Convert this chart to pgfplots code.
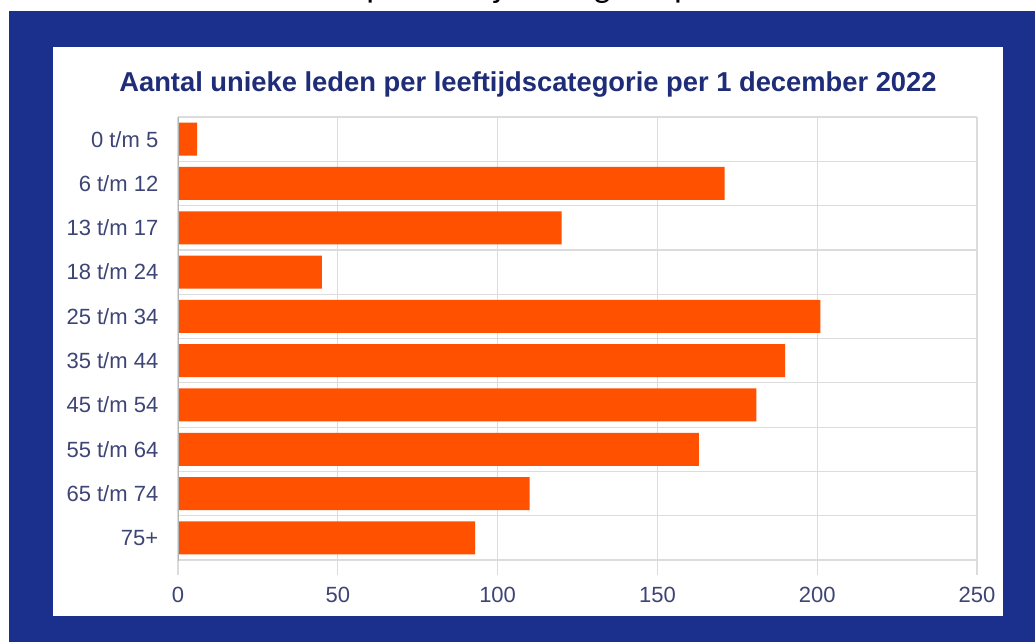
\documentclass[border=0pt]{standalone}
\usepackage{fontspec}
\setmainfont{Liberation Sans}
\newfontfamily\captionfont{Carlito}
\usepackage{pgfplots}
\pgfplotsset{compat=1.18}
\definecolor{frameblue}{HTML}{1B2F8D}
\definecolor{barorange}{HTML}{FF5100}
\definecolor{titleblue}{HTML}{1F2C77}
\definecolor{labelblue}{HTML}{3D4476}
\definecolor{gridgray}{HTML}{DCDCDC}
\definecolor{axisgray}{HTML}{B4B4B4}

\begin{document}
\begin{tikzpicture}
% page = 1035 x 642 px, 1 px = 0.75 pt, origin top left
\useasboundingbox (0,0) rectangle (776.25pt,-481.5pt);
\fill[white] (0,0) rectangle (776.25pt,-481.5pt);
\begin{scope}
  \clip (0,0) rectangle (776.25pt,-8.25pt);
  \node[anchor=base, inner sep=0pt, text=black,
        font=\captionfont\fontsize{26.2}{30}\selectfont] at (396pt,1.5pt)
        {Aantal unieke leden per leeftijdscategorie per 1 december 2022};
\end{scope}
\fill[frameblue] (6.75pt,-8.25pt) rectangle (776.25pt,-481.5pt);
\fill[white] (39.75pt,-35.25pt) rectangle (752.25pt,-462pt);
\node[anchor=base, inner sep=0pt, text=titleblue,
      font=\bfseries\fontsize{20.5}{24}\selectfont] at (396pt,-69pt)
      {Aantal unieke leden per leeftijdscategorie per 1 december 2022};

\begin{axis}[
    at={(133.5pt,-420pt)}, anchor=south west,
    scale only axis, width=599.25pt, height=332.25pt,
    xmin=0, xmax=250, ymin=-0.5, ymax=9.5, y dir=reverse,
    xtick={0,50,...,250},
    ytick={0,...,9},
    yticklabels={0 t/m 5, 6 t/m 12, 13 t/m 17, 18 t/m 24, 25 t/m 34,
                 35 t/m 44, 45 t/m 54, 55 t/m 64, 65 t/m 74, 75+},
    axis line style={draw=none},
    tick align=outside,
    xtick pos=lower, ytick pos=left,
    major tick length=11.25pt,
    xmajorgrids,
    grid style={gridgray, line width=0.9pt},
    x tick style={draw=gridgray, line width=0.9pt},
    y tick style={draw=none},
    extra y ticks={-0.5,0.5,...,9.5},
    extra y tick labels={},
    extra y tick style={grid=major, major tick length=13.5pt,
                        tick style={draw=gridgray, line width=0.9pt}},
    tick label style={font=\fontsize{16.5}{19}\selectfont, text=labelblue},
    xticklabel style={yshift=-5.25pt},
    /pgf/number format/assume math mode=true,
  ]
  \addplot[xbar, bar width=24.75pt, fill=barorange, draw=none] coordinates {
    (6,0) (171,1) (120,2) (45,3) (201,4)
    (190,5) (181,6) (163,7) (110,8) (93,9)
  };
  \draw[axisgray, line width=0.9pt] (axis cs:0,-0.5) -- (axis cs:0,9.5) -- ++(0,-11.25pt);
\end{axis}
\end{tikzpicture}
\end{document}
